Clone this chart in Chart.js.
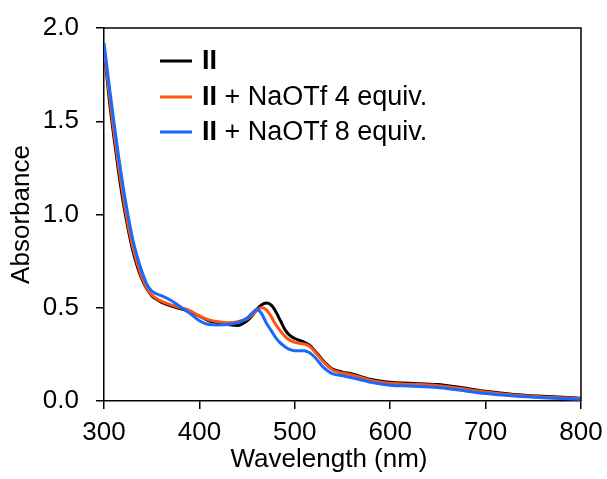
<!DOCTYPE html>
<html>
<head>
<meta charset="utf-8">
<script src="https://cdn.jsdelivr.net/npm/chart.js@4/dist/chart.umd.min.js"></script>
<style>
html,body{margin:0;padding:0;background:#fff;}
#wrap{width:607px;height:479px;}
</style>
</head>
<body>
<div id="wrap"><canvas id="c" width="607" height="479"></canvas></div>
<script>
const wavelengths = [300,305,310,315,320,325,330,335,340,345,350,355,360,370,380,390,400,410,420,430,440,450,455,460,465,470,475,480,485,490,495,500,505,510,515,520,525,530,535,540,550,560,580,600,620,650,670,700,730,760,800];
const absII = [1.90,1.64,1.43,1.24,1.07,0.93,0.81,0.72,0.65,0.60,0.565,0.545,0.53,0.51,0.495,0.48,0.455,0.43,0.42,0.41,0.405,0.43,0.455,0.49,0.515,0.525,0.515,0.48,0.43,0.38,0.35,0.335,0.325,0.315,0.30,0.275,0.245,0.215,0.19,0.17,0.155,0.145,0.115,0.10,0.095,0.088,0.075,0.052,0.035,0.025,0.015];
const absNa4 = [1.90,1.67,1.46,1.27,1.10,0.95,0.83,0.735,0.66,0.605,0.57,0.55,0.535,0.515,0.50,0.485,0.455,0.435,0.425,0.42,0.425,0.44,0.46,0.485,0.50,0.49,0.455,0.41,0.375,0.345,0.325,0.315,0.31,0.305,0.295,0.27,0.24,0.21,0.185,0.165,0.15,0.14,0.11,0.095,0.09,0.082,0.07,0.048,0.032,0.022,0.013];
const absNa8 = [1.92,1.71,1.51,1.32,1.15,1.00,0.87,0.77,0.69,0.625,0.59,0.575,0.565,0.54,0.505,0.47,0.43,0.41,0.408,0.41,0.42,0.445,0.47,0.49,0.47,0.42,0.38,0.34,0.31,0.29,0.275,0.27,0.27,0.27,0.26,0.24,0.21,0.18,0.16,0.145,0.135,0.125,0.10,0.085,0.08,0.073,0.06,0.04,0.027,0.018,0.01];
const xTicks = [300,400,500,600,700,800];
const yTicks = [0.0,0.5,1.0,1.5,2.0];
const xTitle = 'Wavelength (nm)';
const yTitle = 'Absorbance';
const seriesBold = ['II','II','II'];
const seriesRest = ['',' + NaOTf 4 equiv.',' + NaOTf 8 equiv.'];
const seriesColors = ['#000000','#ff5312','#1769ff'];

const FONT = "'Liberation Sans', Arial, sans-serif";

function pts(arr){ return wavelengths.map((w,i)=>({x:w,y:arr[i]})); }

const frame = {
  id:'frame',
  afterDatasetsDraw(chart){
    const {ctx, chartArea:a} = chart;
    ctx.save();
    ctx.strokeStyle='#000'; ctx.lineWidth=1.5;
    ctx.beginPath();
    ctx.moveTo(a.left,a.top); ctx.lineTo(a.right,a.top); ctx.lineTo(a.right,a.bottom);
    ctx.stroke();
    // x title
    ctx.fillStyle='#000';
    ctx.font="26px "+FONT;
    ctx.textAlign='center'; ctx.textBaseline='alphabetic';
    ctx.fillText(xTitle,329,467);
    // legend
    const rows=[61,97,132];
    ctx.textAlign='left';
    ctx.textBaseline='middle';
    for(let i=0;i<3;i++){
      ctx.strokeStyle=seriesColors[i]; ctx.lineWidth=3;
      ctx.beginPath(); ctx.moveTo(160,rows[i]); ctx.lineTo(192,rows[i]); ctx.stroke();
      ctx.fillStyle='#000';
      ctx.font="bold 27px "+FONT;
      ctx.fillText(seriesBold[i],202,rows[i]+1);
      const w=ctx.measureText(seriesBold[i]).width;
      ctx.font="27px "+FONT;
      ctx.fillText(seriesRest[i],202+w,rows[i]+1);
    }
    ctx.restore();
  }
};

new Chart(document.getElementById('c'),{
  type:'line',
  data:{datasets:[
    {label:'II',data:pts(absII),borderColor:seriesColors[0],borderWidth:3,pointRadius:0,cubicInterpolationMode:'monotone',order:2},
    {label:'II + NaOTf 4 equiv.',data:pts(absNa4),borderColor:seriesColors[1],borderWidth:3,pointRadius:0,cubicInterpolationMode:'monotone',order:1},
    {label:'II + NaOTf 8 equiv.',data:pts(absNa8),borderColor:seriesColors[2],borderWidth:3,pointRadius:0,cubicInterpolationMode:'monotone',order:0}
  ]},
  options:{
    responsive:false,animation:false,
    layout:{padding:{left:0,right:26,top:28,bottom:0}},
    plugins:{legend:{display:false},tooltip:{enabled:false}},
    scales:{
      x:{type:'linear',min:300,max:800,
        afterBuildTicks(s){ s.ticks = xTicks.map(v=>({value:v})); },
        afterFit(s){ s.height = 78; s.paddingRight = 0; s.paddingLeft = 0; },
        grid:{display:true,drawOnChartArea:false,drawTicks:true,tickLength:8,color:'#000',lineWidth:1.5},
        border:{display:true,color:'#000',width:1.5},
        ticks:{color:'#000',font:{family:FONT,size:26},padding:8,maxRotation:0},
        title:{display:false}
      },
      y:{min:0,max:2,
        afterBuildTicks(s){ s.ticks = yTicks.map(v=>({value:v})); },
        afterFit(s){ s.width = 104; s.paddingTop = 0; s.paddingBottom = 0; },
        grid:{display:true,drawOnChartArea:false,drawTicks:true,tickLength:8,color:'#000',lineWidth:1.5},
        border:{display:true,color:'#000',width:1.5},
        ticks:{color:'#000',font:{family:FONT,size:26},padding:17,callback:v=>v.toFixed(1)},
        title:{display:true,text:yTitle,color:'#000',font:{family:FONT,size:26},padding:{top:6,bottom:0}}
      }
    }
  },
  plugins:[frame]
});
</script>
</body>
</html>
